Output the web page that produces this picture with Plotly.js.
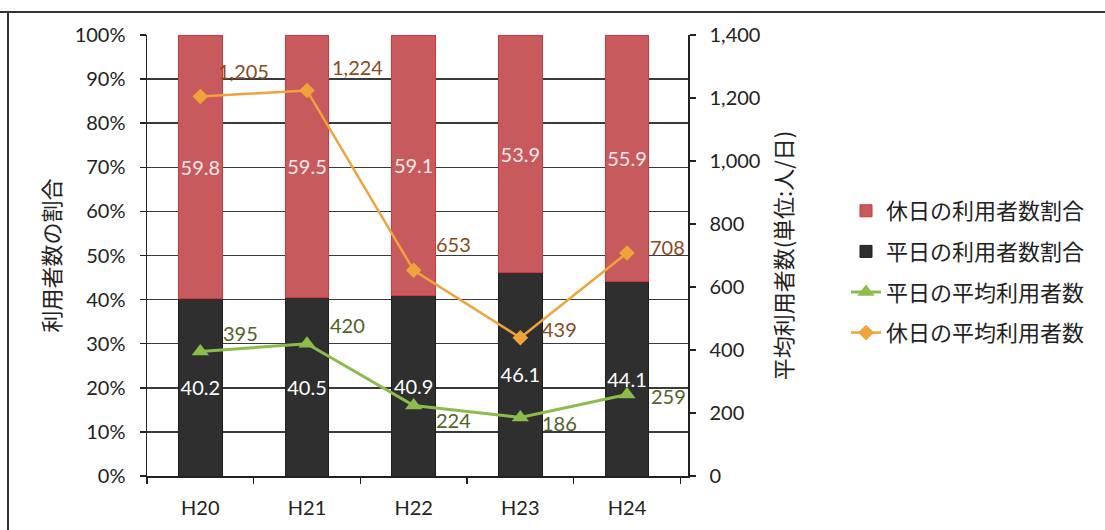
<!DOCTYPE html>
<html>
<head>
<meta charset="utf-8">
<script src="https://cdn.plot.ly/plotly-3.0.1.min.js"></script>
<style>
  html, body { margin: 0; padding: 0; background: #fff; }
  #chart { width: 1105px; height: 530px; }
</style>
</head>
<body>
<div id="chart"></div>
<script>
// ---- data ----
const categories = ["H20", "H21", "H22", "H23", "H24"];
const holidayShare = [59.8, 59.5, 59.1, 53.9, 55.9];   // 休日の利用者数割合 (%)
const weekdayShare = [40.2, 40.5, 40.9, 46.1, 44.1];   // 平日の利用者数割合 (%)
const weekdayAvg = [395, 420, 224, 186, 259];           // 平日の平均利用者数
const holidayAvg = [1205, 1224, 653, 439, 708];         // 休日の平均利用者数
const leftTicks = [0, 10, 20, 30, 40, 50, 60, 70, 80, 90, 100];
const rightTicks = [0, 200, 400, 600, 800, 1000, 1200, 1400];

// label offsets (pixels, dx to the left edge of the text, dy upward to its centre)
const weekdayLabelShift = [[21, 19], [21, 19], [20, -15], [20, -6], [22, -2]];
const holidayLabelShift = [[16, 25], [23, 23], [20, 26], [20, 9], [21, 6]];

const numFont = 'Lato, "Noto Sans CJK JP", sans-serif';
const cjkFont = '"Noto Sans CJK JP", sans-serif';

const traces = [
  {
    type: 'bar', name: '平日の利用者数割合', x: categories, y: weekdayShare,
    marker: { color: '#2f2f2f', line: { color: '#1e1e1e', width: 1 } },
    texttemplate: '%{y:.1f}', textposition: 'inside', insidetextanchor: 'middle',
    constraintext: 'none', textangle: 0,
    textfont: { color: '#ffffff', size: 20, family: numFont },
    legendrank: 2, legendgroup: 'b', hoverinfo: 'skip'
  },
  {
    type: 'bar', name: '休日の利用者数割合', x: categories, y: holidayShare,
    marker: { color: '#c65a5c', line: { color: '#d8343a', width: 1 } },
    texttemplate: '%{y:.1f}', textposition: 'inside', insidetextanchor: 'middle',
    constraintext: 'none', textangle: 0,
    textfont: { color: '#fbe9e9', size: 20, family: numFont },
    legendrank: 1, legendgroup: 'a', hoverinfo: 'skip'
  },
  {
    type: 'scatter', mode: 'lines+markers', name: '平日の平均利用者数',
    x: categories, y: weekdayAvg, yaxis: 'y2',
    line: { color: '#8cbc4c', width: 3 },
    marker: { symbol: 'triangle-up', size: 15, color: '#8cbc4c' },
    legendrank: 3, legendgroup: 'c', hoverinfo: 'skip'
  },
  {
    type: 'scatter', mode: 'lines+markers', name: '休日の平均利用者数',
    x: categories, y: holidayAvg, yaxis: 'y2',
    line: { color: '#eea43a', width: 2.5 },
    marker: { symbol: 'diamond', size: 12, color: '#eea43a' },
    legendrank: 4, legendgroup: 'd', hoverinfo: 'skip'
  }
];

function labels(values, shifts, color) {
  return values.map((v, i) => ({
    x: categories[i], y: v, xref: 'x', yref: 'y2',
    text: v.toLocaleString('en-US'), showarrow: false,
    xanchor: 'left', yanchor: 'middle',
    xshift: shifts[i][0], yshift: shifts[i][1],
    font: { family: numFont, size: 20, color: color }
  }));
}

const plotL = 147, plotR = 688, plotT = 35, plotB = 476, W = 1105, H = 530;
const pw = plotR - plotL, ph = plotB - plotT;
const px = v => (v - plotL) / pw;
const py = v => (plotB - v) / ph;

const layout = {
  width: W, height: H,
  margin: { l: plotL, r: W - plotR, t: plotT, b: H - plotB, pad: 0 },
  paper_bgcolor: '#ffffff', plot_bgcolor: '#ffffff',
  barmode: 'stack', bargap: 0.59,
  font: { family: numFont, color: '#222' },
  showlegend: true,
  legend: {
    x: px(846), y: py(190), xanchor: 'left', yanchor: 'top',
    font: { family: cjkFont, size: 22, color: '#222' },
    tracegroupgap: 9, traceorder: 'grouped', bgcolor: 'rgba(0,0,0,0)'
  },
  xaxis: {
    type: 'category', categoryorder: 'array', categoryarray: categories,
    showline: true, linecolor: '#222', linewidth: 1.5,
    ticks: 'outside', tickson: 'boundaries', ticklen: 6, tickcolor: '#222', tickwidth: 1.5,
    ticklabelstandoff: 13,
    tickfont: { size: 20, family: numFont, color: '#222' },
    showgrid: false, zeroline: false, fixedrange: true
  },
  yaxis: {
    range: [0, 100], tickvals: leftTicks, ticktext: leftTicks.map(v => v + '%'),
    showline: true, linecolor: '#222', linewidth: 1.5,
    ticks: 'outside', ticklen: 6, tickcolor: '#222', tickwidth: 1.5,
    ticklabelstandoff: 10,
    tickfont: { size: 20, family: numFont, color: '#222' },
    showgrid: true, gridcolor: '#3a3a3a', gridwidth: 1.5, zeroline: false,
    title: { text: '利用者数の割合', font: { family: cjkFont, size: 22, color: '#222' }, standoff: 8 },
    fixedrange: true
  },
  yaxis2: {
    overlaying: 'y', side: 'right', range: [0, 1400], tickvals: rightTicks,
    tickformat: ',d',
    showline: true, linecolor: '#222', linewidth: 1.5,
    ticks: 'outside', ticklen: 6, tickcolor: '#222', tickwidth: 1.5,
    ticklabelstandoff: 10,
    tickfont: { size: 20, family: numFont, color: '#222' },
    showgrid: false, zeroline: false,
    title: { text: '平均利用者数(単位:人/日)', font: { family: cjkFont, size: 22, color: '#222' }, standoff: 17 },
    fixedrange: true
  },
  annotations: [].concat(
    labels(weekdayAvg, weekdayLabelShift, '#4f6228'),
    labels(holidayAvg, holidayLabelShift, '#8a4a22')
  ),
  shapes: [
    { type: 'line', xref: 'paper', yref: 'paper', x0: px(0), x1: px(W), y0: py(12), y1: py(12),
      line: { color: '#333', width: 2 } },
    { type: 'line', xref: 'paper', yref: 'paper', x0: px(8), x1: px(8), y0: py(12), y1: py(H),
      line: { color: '#333', width: 2 } }
  ]
};

Plotly.newPlot('chart', traces, layout, { displayModeBar: false, staticPlot: true });
</script>
</body>
</html>
